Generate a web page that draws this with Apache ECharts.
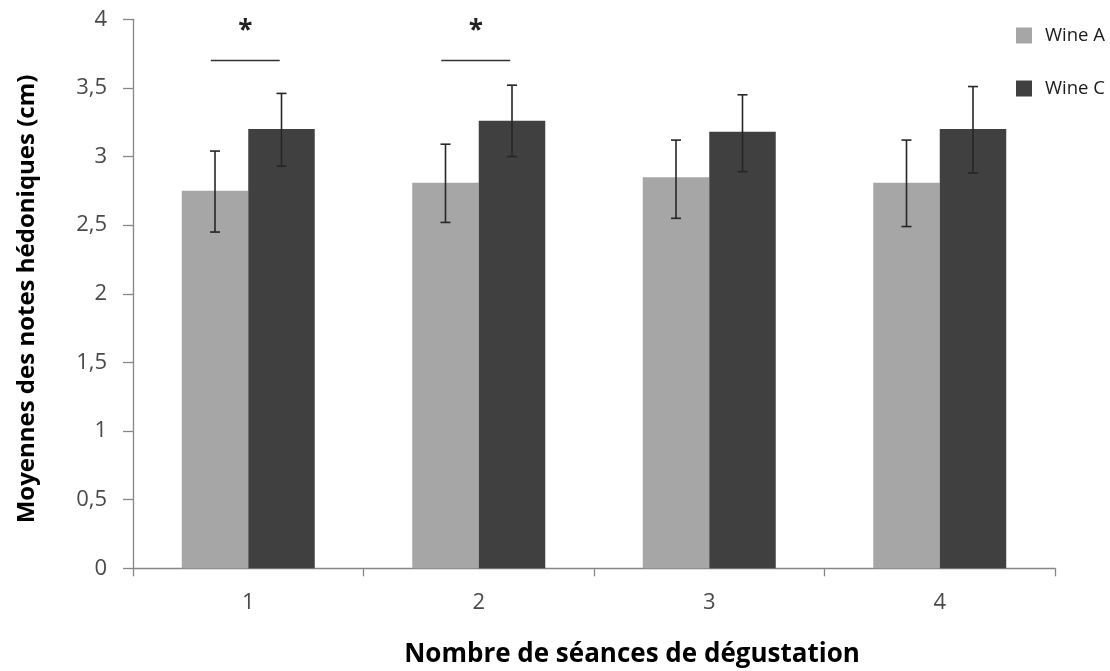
<!DOCTYPE html>
<html>
<head>
<meta charset="utf-8">
<title>Moyennes des notes hédoniques</title>
<script src="https://cdn.jsdelivr.net/npm/echarts@6/dist/echarts.min.js"></script>
<style>
  html, body { margin: 0; padding: 0; background: #ffffff; }
  #chart { width: 1110px; height: 671px; }
</style>
</head>
<body>
<div id="chart"></div>
<script>
// Tasting sessions and hedonic score means (cm) with error bar bounds
const sessions = ['1', '2', '3', '4'];
const seriesNames = ['Wine A', 'Wine C'];

const wineA = [2.75, 2.81, 2.85, 2.81];
const wineAUpper = [3.04, 3.09, 3.12, 3.12];
const wineALower = [2.45, 2.52, 2.55, 2.49];

const wineC = [3.20, 3.26, 3.18, 3.20];
const wineCUpper = [3.46, 3.52, 3.45, 3.51];
const wineCLower = [2.93, 3.00, 2.89, 2.88];

// Sessions with a significant difference, and the level of the bracket
const significantSessions = ['1', '2'];
const bracketLevel = [3.70, 3.70];

const yTicks = { min: 0, max: 4, interval: 0.5 };

const FONT = '"Open Sans", "Noto Sans", sans-serif';
const BAR_WIDTH = 66.5;

function errorData(lower, upper) {
  return lower.map((lo, i) => [i, lo, upper[i]]);
}

function errorRenderer(offset) {
  return function (params, api) {
    const idx = api.value(0);
    const lo = api.coord([idx, api.value(1)]);
    const hi = api.coord([idx, api.value(2)]);
    const x = lo[0] + offset;
    const cap = 5;
    const style = { stroke: '#262626', lineWidth: 1.6 };
    return {
      type: 'group',
      children: [
        { type: 'line', shape: { x1: x, y1: hi[1], x2: x, y2: lo[1] }, style },
        { type: 'line', shape: { x1: x - cap, y1: hi[1], x2: x + cap, y2: hi[1] }, style },
        { type: 'line', shape: { x1: x - cap, y1: lo[1], x2: x + cap, y2: lo[1] }, style }
      ]
    };
  };
}

function bracketRenderer(params, api) {
  const p = api.coord([api.value(0), api.value(1)]);
  const cx = p[0] - 3;
  const half = 34.5;
  return {
    type: 'group',
    children: [
      { type: 'line', shape: { x1: cx - half, y1: p[1], x2: cx + half, y2: p[1] },
        style: { stroke: '#333333', lineWidth: 1.6 } },
      { type: 'text', x: cx, y: p[1] - 29,
        style: { text: '*', fill: '#222222', font: 'bold 26px ' + FONT,
                 textAlign: 'center', textVerticalAlign: 'middle' } }
    ]
  };
}

const chart = echarts.init(document.getElementById('chart'), null, { renderer: 'canvas' });

chart.setOption({
  backgroundColor: '#ffffff',
  animation: false,
  grid: { left: 133, right: 55, top: 19.3, bottom: 102.7, containLabel: false },
  legend: {
    data: seriesNames,
    orient: 'vertical',
    left: 1016,
    top: 26,
    padding: 0,
    itemWidth: 16,
    itemHeight: 16,
    itemGap: 34,
    icon: 'rect',
    textStyle: { fontFamily: FONT, fontSize: 18.5, color: '#1a1a1a', lineHeight: 16, padding: [0, 0, 0, 8] }
  },
  xAxis: {
    type: 'category',
    data: sessions,
    axisLine: { lineStyle: { color: '#868686', width: 1.3 } },
    axisTick: { show: true, alignWithLabel: false, length: 8, lineStyle: { color: '#868686', width: 1.3 } },
    axisLabel: { fontFamily: FONT, fontSize: 22, color: '#4a4a4a', margin: 23 },
    splitLine: { show: false }
  },
  yAxis: {
    type: 'value',
    min: yTicks.min,
    max: yTicks.max,
    interval: yTicks.interval,
    axisLine: { show: true, lineStyle: { color: '#868686', width: 1.3 } },
    axisTick: { show: true, length: 10, lineStyle: { color: '#868686', width: 1.3 } },
    axisLabel: {
      fontFamily: FONT, fontSize: 22, color: '#4a4a4a', margin: 26,
      formatter: v => String(v).replace('.', ',')
    },
    splitLine: { show: false }
  },
  graphic: [
    {
      type: 'text', x: 632, y: 655,
      style: { text: 'Nombre de séances de dégustation', font: 'bold 26px ' + FONT,
               fill: '#000000', textAlign: 'center', textVerticalAlign: 'middle' }
    },
    {
      type: 'text', x: 27, y: 299, rotation: Math.PI / 2,
      style: { text: 'Moyennes des notes hédoniques (cm)', font: 'bold 24px ' + FONT,
               fill: '#000000', textAlign: 'center', textVerticalAlign: 'middle' }
    }
  ],
  series: [
    {
      name: 'Wine A', type: 'bar', data: wineA,
      barWidth: BAR_WIDTH, barGap: '0%',
      itemStyle: { color: '#a6a6a6' }
    },
    {
      name: 'Wine C', type: 'bar', data: wineC,
      barWidth: BAR_WIDTH, barGap: '0%',
      itemStyle: { color: '#404040' }
    },
    {
      type: 'custom', name: 'err A', z: 5,
      renderItem: errorRenderer(-BAR_WIDTH / 2),
      data: errorData(wineALower, wineAUpper),
      encode: { x: 0, y: [1, 2] }
    },
    {
      type: 'custom', name: 'err C', z: 5,
      renderItem: errorRenderer(BAR_WIDTH / 2),
      data: errorData(wineCLower, wineCUpper),
      encode: { x: 0, y: [1, 2] }
    },
    {
      type: 'custom', name: 'significance', z: 5,
      renderItem: bracketRenderer,
      data: significantSessions.map((s, i) => [sessions.indexOf(s), bracketLevel[i]]),
      encode: { x: 0, y: 1 }
    }
  ]
});
</script>
</body>
</html>
